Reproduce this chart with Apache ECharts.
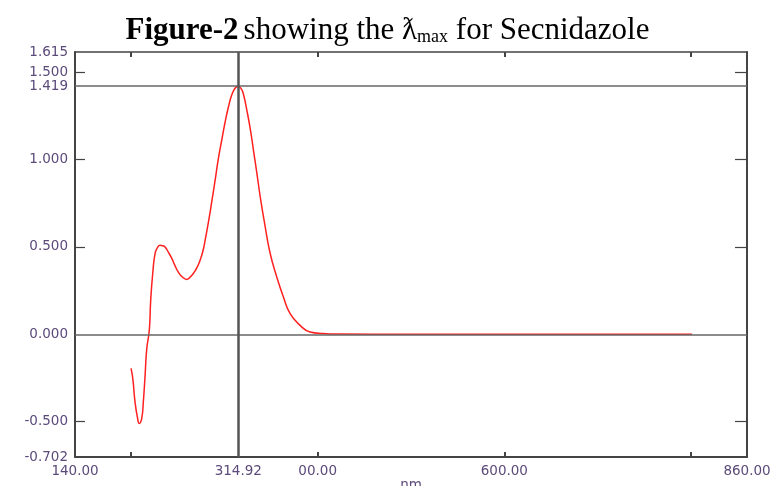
<!DOCTYPE html>
<html><head><meta charset="utf-8">
<script src="https://cdn.jsdelivr.net/npm/echarts@6/dist/echarts.min.js"></script>
<style>html,body{margin:0;padding:0;background:#fff}#c{width:775px;height:486px}</style>
</head><body><div id="c"></div>
<script>
var wavelength = [200.0,201.4,202.5,204.3,206.8,208.9,211.5,213.2,215.0,216.9,219.6,221.1,223.3,225.8,228.5,231.1,233.8,236.5,240.0,243.7,247.0,250.7,255.0,259.7,263.3,266.8,270.5,274.0,277.0,279.4,282.9,286.5,290.1,293.6,297.3,300.8,304.3,308.0,311.5,314.92,318.0,320.4,324.0,327.6,331.1,334.8,338.8,343.7,349.0,356.2,363.3,370.5,381.2,391.9,406.2,420.0,500.0,600.0,700.0,801.0];
var absorbance = [-0.195,-0.234,-0.282,-0.387,-0.473,-0.510,-0.481,-0.387,-0.244,-0.082,0.023,0.194,0.349,0.463,0.497,0.509,0.507,0.499,0.470,0.434,0.394,0.356,0.328,0.314,0.327,0.348,0.380,0.423,0.475,0.537,0.640,0.757,0.880,1.005,1.113,1.213,1.299,1.370,1.408,1.419,1.405,1.375,1.285,1.181,1.057,0.924,0.775,0.618,0.465,0.327,0.213,0.118,0.051,0.013,0.004,0.001,0.0,0.0,0.0,0.0];
var xLabelValues = [140, 314.92, 400, 600, 860];
var xLabelTexts = ['140.00', '314.92', '00.00', '600.00', '860.00'];
var xTickValues = [200, 400, 600, 800];
var yLabelValues = [-0.702, -0.5, 0, 0.5, 1.0, 1.419, 1.5, 1.615];
var yTickValues = [-0.5, 0.5, 1.0, 1.5];
var peakX = 314.92, peakY = 1.419;

var chart = echarts.init(document.getElementById('c'));
var labColor = '#5b4a7a';
chart.setOption({
  animation: false,
  title: {
    text: '{b|Figure-2} {n|showing the ƛ}{s|max}{n| for Secnidazole}',
    left: 'center', top: 10,
    textStyle: {
      rich: {
        b: {fontFamily: 'Liberation Serif', fontWeight: 'bold', fontSize: 31, color: '#000'},
        n: {fontFamily: 'Liberation Serif', fontWeight: 'normal', fontSize: 31, color: '#000'},
        s: {fontFamily: 'Liberation Serif', fontWeight: 'normal', fontSize: 18, color: '#000', padding: [13, 0, 0, 0]}
      }
    }
  },
  grid: {left: 75, right: 28, top: 52, bottom: 29, containLabel: false, outerBoundsMode: 'none'},
  xAxis: [{
    type: 'value', min: 140, max: 860, position: 'bottom',
    axisLine: {show: true, onZero: false, lineStyle: {color: '#444', width: 2}},
    splitLine: {show: false},
    axisTick: {show: true, inside: true, length: 5, customValues: xTickValues, lineStyle: {color: '#444', width: 2}},
    axisLabel: {customValues: xLabelValues, margin: 7,
      formatter: function (v) { var i = xLabelValues.indexOf(v); return i >= 0 ? xLabelTexts[i] : ''; },
      color: labColor, fontFamily: 'DejaVu Sans', fontSize: 13.5},
    name: 'nm', nameLocation: 'middle', nameGap: 21, nameMoveOverlap: false,
    nameTextStyle: {color: labColor, fontFamily: 'DejaVu Sans', fontSize: 13.5}
  }, {
    type: 'value', min: 140, max: 860, position: 'top',
    axisLine: {show: true, onZero: false, lineStyle: {color: '#444', width: 1.5}},
    splitLine: {show: false},
    axisTick: {show: true, inside: true, length: 5, customValues: xTickValues, lineStyle: {color: '#444', width: 2}},
    axisLabel: {show: false}
  }],
  yAxis: [{
    type: 'value', min: -0.702, max: 1.615, position: 'left',
    axisLine: {show: true, onZero: false, lineStyle: {color: '#444', width: 2}},
    splitLine: {show: false},
    axisTick: {show: true, inside: true, length: 10, customValues: yTickValues, lineStyle: {color: '#444', width: 1.2}},
    axisLabel: {customValues: yLabelValues, margin: 7,
      formatter: function (v) { return v.toFixed(3); },
      color: labColor, fontFamily: 'DejaVu Sans', fontSize: 13.5}
  }, {
    type: 'value', min: -0.702, max: 1.615, position: 'right',
    axisLine: {show: true, onZero: false, lineStyle: {color: '#444', width: 2}},
    splitLine: {show: false},
    axisTick: {show: true, inside: true, length: 12, customValues: yTickValues, lineStyle: {color: '#444', width: 1.2}},
    axisLabel: {show: false}
  }],
  series: [{
    type: 'line', data: wavelength.map(function (x, i) { return [x, absorbance[i]]; }),
    smooth: 0.5, showSymbol: false, symbol: 'none',
    lineStyle: {color: '#ff2020', width: 1.5},
    markLine: {
      silent: true, symbol: 'none', label: {show: false},
      data: [
        {yAxis: 0, lineStyle: {color: '#666', width: 1.5, type: 'solid'}},
        {yAxis: peakY, lineStyle: {color: '#666', width: 1.5, type: 'solid'}},
        {xAxis: peakX, lineStyle: {color: '#555', width: 2.5, type: 'solid'}}
      ]
    }
  }]
});
</script></body></html>
